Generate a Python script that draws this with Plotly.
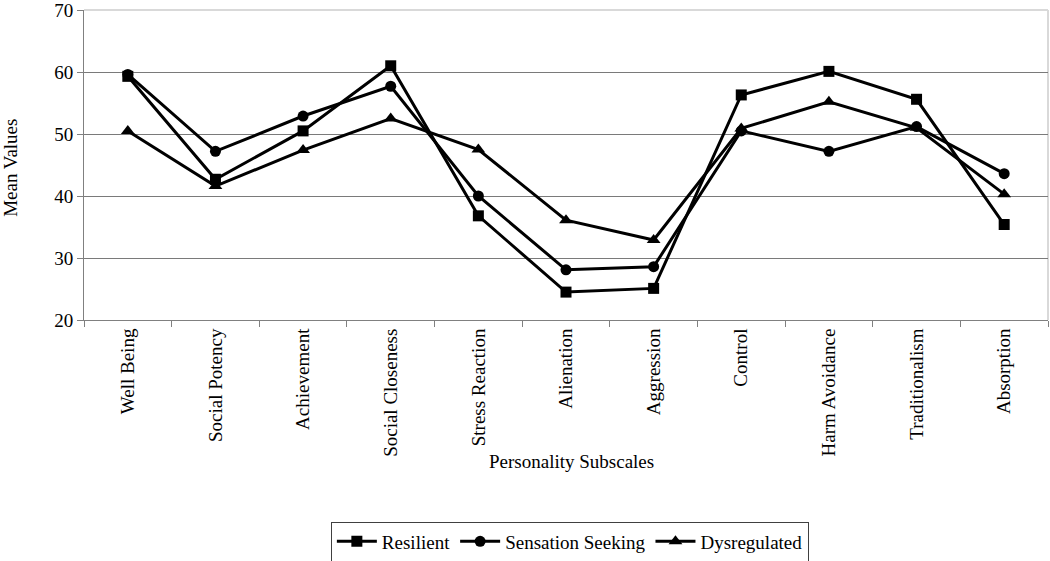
import plotly.graph_objects as go

categories = ["Well Being", "Social Potency", "Achievement", "Social Closeness",
              "Stress Reaction", "Alienation", "Aggression", "Control",
              "Harm Avoidance", "Traditionalism", "Absorption"]
resilient = [59.3, 42.7, 50.5, 61.0, 36.8, 24.5, 25.1, 56.3, 60.1, 55.6, 35.4]
sensation_seeking = [59.6, 47.2, 52.9, 57.7, 40.0, 28.1, 28.6, 50.5, 47.2, 51.2, 43.6]
dysregulated = [50.5, 41.6, 47.4, 52.5, 47.5, 36.1, 32.9, 50.9, 55.2, 51.0, 40.3]
y_ticks = [20, 30, 40, 50, 60, 70]

FONT = "Liberation Serif, Times New Roman, serif"

fig = go.Figure()
series = [("Resilient", resilient, "square", 11),
          ("Sensation Seeking", sensation_seeking, "circle", 11),
          ("Dysregulated", dysregulated, "triangle-up", 12)]
for name, vals, sym, sz in series:
    fig.add_trace(go.Scatter(
        x=categories, y=vals, name=name, mode="lines+markers",
        line=dict(color="black", width=3),
        marker=dict(symbol=sym, size=sz, color="black"),
    ))

fig.update_layout(
    width=1050, height=561,
    margin=dict(l=84, r=2, t=10, b=241, autoexpand=False),
    paper_bgcolor="white", plot_bgcolor="white",
    font=dict(family=FONT, size=19, color="black"),
    showlegend=True,
    legend=dict(orientation="h", x=0.504, xanchor="center", y=-0.65, yanchor="top",
                bordercolor="#404040", borderwidth=1, font=dict(size=19),
                itemwidth=40, tracegroupgap=0),
)
fig.update_xaxes(
    type="category", range=[-0.5, 10.5], tickangle=-90, automargin=False,
    ticks="outside", tickson="boundaries", ticklen=6, tickcolor="#808080",
    showline=True, linecolor="#808080", linewidth=1, showgrid=False,
    tickfont=dict(size=19, family=FONT, color="black"),
)
fig.update_yaxes(
    range=[20, 70], tickvals=y_ticks, ticks="outside", ticklen=6, tickcolor="#808080",
    automargin=False, ticklabeloverflow="allow",
    showline=True, linecolor="#808080", linewidth=1,
    showgrid=True, gridcolor="#7a7a7a", gridwidth=1, zeroline=False,
    tickfont=dict(size=19, family=FONT, color="black"),
)
# light top and right border of the plot area
fig.add_shape(type="line", xref="paper", yref="paper", x0=0, x1=1, y0=1, y1=1,
              line=dict(color="#d9d9d9", width=2), layer="above")
fig.add_shape(type="line", xref="paper", yref="paper", x0=1, x1=1, y0=0, y1=1,
              line=dict(color="#d9d9d9", width=2), layer="below")
fig.add_annotation(text="Personality Subscales", xref="paper", yref="paper",
                   x=0.506, y=-0.455, xanchor="center", yanchor="middle",
                   showarrow=False, font=dict(size=19, family=FONT, color="black"))
fig.add_annotation(text="Mean Values", xref="paper", yref="paper",
                   x=-0.077, y=0.49, xanchor="center", yanchor="middle", textangle=-90,
                   showarrow=False, font=dict(size=19, family=FONT, color="black"))

fig.write_html("out.html", config={"displayModeBar": False},
               post_script="document.body.style.margin='0';document.body.style.overflow='hidden';")
